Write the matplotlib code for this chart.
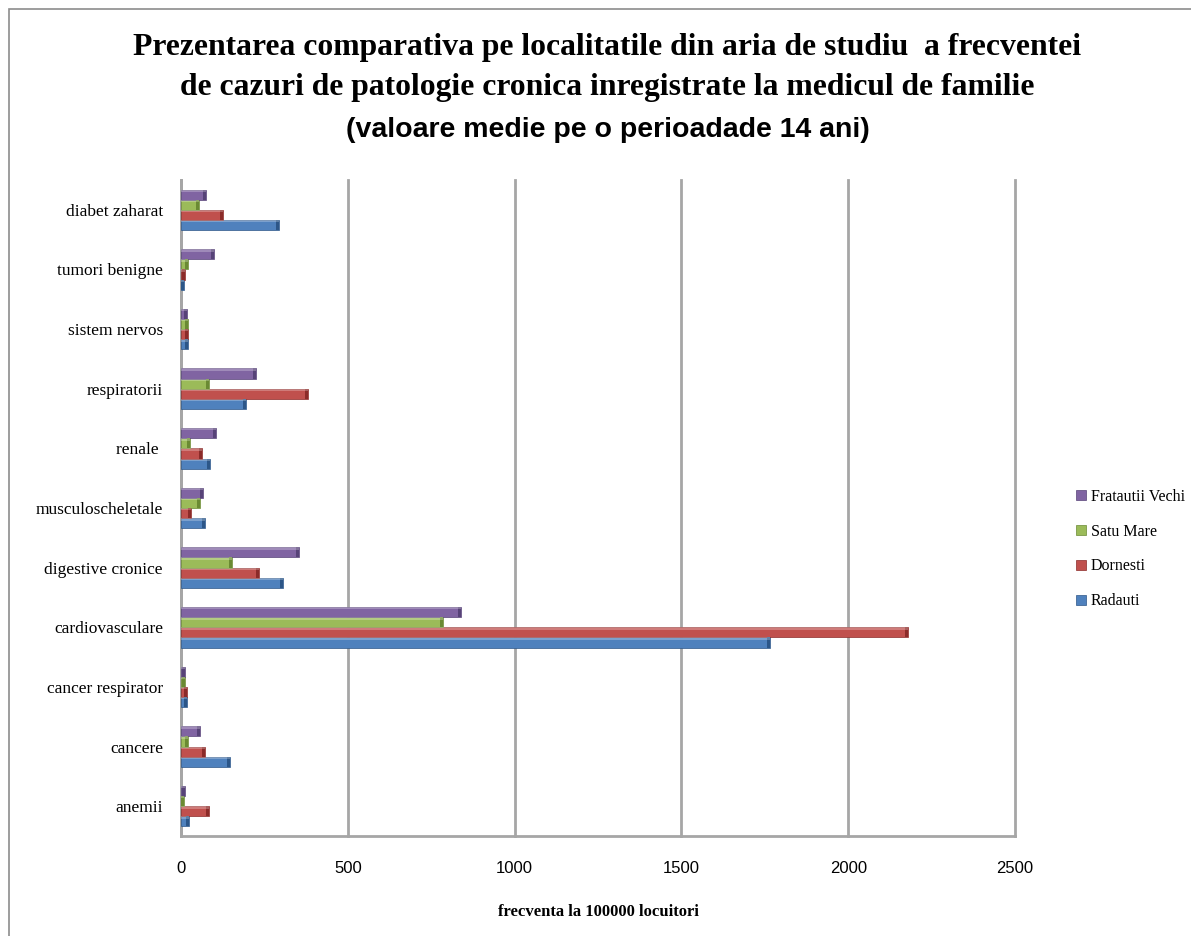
import matplotlib.pyplot as plt
from matplotlib.patches import Rectangle
from matplotlib import font_manager

# categories listed bottom -> top as they sit on the y axis
categorii = ['anemii', 'cancere', 'cancer respirator', 'cardiovasculare',
             'digestive cronice', 'musculoscheletale', 'renale ', 'respiratorii',
             'sistem nervos', 'tumori benigne', 'diabet zaharat']

radauti = [25, 148, 19, 1766, 305, 73, 87, 195, 20, 10, 293]
dornesti = [83, 73, 19, 2178, 235, 29, 63, 380, 20, 13, 127]
satu_mare = [10, 22, 13, 785, 152, 57, 27, 85, 20, 22, 55]
fratautii = [13, 57, 13, 839, 353, 65, 104, 225, 18, 98, 74]

serii = ['Radauti', 'Dornesti', 'Satu Mare', 'Fratautii Vechi']
culori = ['#4f81bd', '#c0504d', '#9bbb59', '#8064a2']
culori_capat = ['#2c5688', '#8b2b29', '#6a8a33', '#574378']

valori = [radauti, dornesti, satu_mare, fratautii]

ticks_x = [0, 500, 1000, 1500, 2000, 2500]

names = {f.name for f in font_manager.fontManager.ttflist}
narrow = 'Liberation Sans Narrow' if 'Liberation Sans Narrow' in names else 'Liberation Sans'

fig = plt.figure(figsize=(11.91, 9.36), dpi=100)

# chart frame
fig.patches.append(Rectangle((9 / 1191, -0.05), 1.2, 1 - 9 / 936 + 0.05,
                             transform=fig.transFigure, fill=False,
                             edgecolor='#8c8c8c', lw=1.2))

ax = fig.add_axes([181 / 1191, 1 - 836 / 936, 834 / 1191, 656 / 936])

h = 0.17
offs = [-0.255, -0.085, 0.085, 0.255]
y = list(range(len(categorii)))
for vals, off, c, cc, name in zip(valori, offs, culori, culori_capat, serii):
    pos = [i + off for i in y]
    ax.barh(pos, vals, height=h, color=c, edgecolor=cc, linewidth=0.5,
            zorder=3, label=name)
    # darker end face of each bar
    cap = [min(9, v) for v in vals]
    ax.barh(pos, cap, left=[v - k for v, k in zip(vals, cap)], height=h,
            color=cc, linewidth=0, zorder=4)
    # light top edge
    ax.barh([p + h / 2 - 0.02 for p in pos], vals, height=0.04,
            color='white', alpha=0.25, linewidth=0, zorder=4)

for t in ticks_x:
    ax.axvline(t, color='#a6a6a6', lw=2, zorder=1, clip_on=False)

ax.set_xlim(0, 2500)
ax.set_ylim(-0.5, len(categorii) - 0.5)
ax.set_yticks(y)
ax.set_yticklabels(categorii, fontfamily='Liberation Serif', fontsize=12.5)
ax.set_xticks(ticks_x)
ax.set_xticklabels([str(t) for t in ticks_x], fontfamily=narrow, fontsize=12)
ax.tick_params(axis='y', length=0, pad=13)
ax.tick_params(axis='x', length=0, pad=18)
for s in ['top', 'right']:
    ax.spines[s].set_visible(False)
ax.spines['left'].set_color('#a6a6a6')
ax.spines['left'].set_linewidth(2)
ax.spines['bottom'].set_color('#a6a6a6')
ax.spines['bottom'].set_linewidth(2)

ax.set_xlabel('frecventa la 100000 locuitori', fontfamily='Liberation Serif',
              fontsize=12, fontweight='bold', labelpad=20)

fig.text(0.51, 1 - 47 / 936,
         'Prezentarea comparativa pe localitatile din aria de studiu  a frecventei',
         ha='center', va='center', fontfamily='Liberation Serif',
         fontweight='bold', fontsize=22.8)
fig.text(0.51, 1 - 88 / 936,
         'de cazuri de patologie cronica inregistrate la medicul de familie',
         ha='center', va='center', fontfamily='Liberation Serif',
         fontweight='bold', fontsize=22.8)
fig.text(0.51, 1 - 130 / 936, '(valoare medie pe o perioadade 14 ani)',
         ha='center', va='center', fontfamily=narrow,
         fontweight='bold', fontsize=20.5)

hs, ls = ax.get_legend_handles_labels()
leg = fig.legend(hs[::-1], ls[::-1], loc='center left',
                 bbox_to_anchor=(1062 / 1191, 1 - 549 / 936), frameon=False,
                 prop={'family': 'Liberation Serif', 'size': 11.5},
                 handlelength=0.6, handleheight=0.6, handletextpad=0.3,
                 labelspacing=1.18)

fig.savefig('out.png', dpi=100)
